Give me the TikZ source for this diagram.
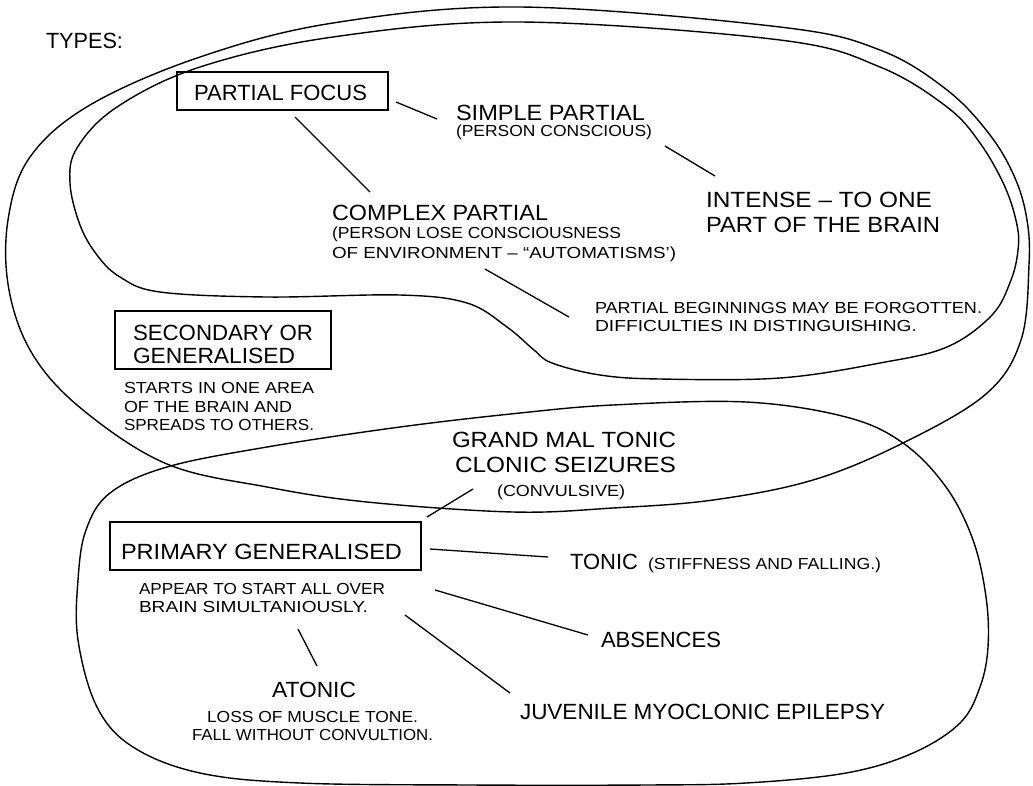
\documentclass[tikz,border=0pt]{standalone}
\usepackage{fontspec}
\setmainfont{Liberation Sans}
\usepackage{graphicx}
\usetikzlibrary{calc}
\newcommand{\BT}[2]{{\fontsize{22}{22}\selectfont\resizebox{#1pt}{\height}{#2}}}
\newcommand{\ST}[2]{{\fontsize{16}{16}\selectfont\resizebox{#1pt}{\height}{#2}}}
\begin{document}
\begin{tikzpicture}[x=1pt,y=-1pt,
  lbl/.style={anchor=base west, inner sep=0pt, outer sep=0pt},
  box/.style={draw, line width=1.4pt, inner sep=0pt, outer sep=0pt},
  conn/.style={line width=1.3pt},
  loopline/.style={line width=1.4pt}]
\useasboundingbox (0,0) rectangle (1033,785);

% outer loop (partial + secondary)
\draw[loopline] plot[smooth cycle, tension=0.6] coordinates {
 (200,57) (333,23) (520,7) (780,27) (880,50) (947,90) (990,135) (1015,178)
 (1027,220) (1029,265) (1021,340) (986,394) (903,443) (813,480)
 (713,500) (613,508) (513,512) (367,502) (267,487) (167,464) (83,410)
 (33,355) (9,290) (8,220) (30,157) (90,105)};

% inner loop (partial focus)
\draw[loopline] plot[smooth cycle, tension=0.6] coordinates {
 (333,37) (520,22) (780,40) (880,67) (947,107) (980,143) (1005,187)
 (1017,225) (1018,250) (1011,280) (992,315) (947,347) (880,363) (780,378)
 (660,379) (600,375) (552,363) (534,350) (507,327) (467,303) (400,295)
 (267,297) (160,292) (120,277) (97,255) (80,225) (70,183) (77,148)
 (117,107) (200,67)};

% bottom loop (primary generalised)
\draw[loopline] plot[smooth cycle, tension=0.6] coordinates {
 (110,493) (167,467) (267,447) (400,427) (520,413) (613,405) (746,402)
 (846,417) (903,443) (946,487) (973,540) (986,597) (988,647) (980,687)
 (960,723) (913,753) (846,773) (746,783) (646,785) (470,785) (300,783)
 (200,773) (133,747) (97,707) (78,640) (78,580) (86,530)};

% title
\node[lbl] (types) at (46,48) {\BT{77}{TYPES:}};

% partial focus
\node[box, minimum width=211pt, minimum height=38pt] (pf) at (282.5,91) {};
\node[lbl] (pft) at (194,100) {\BT{173}{PARTIAL FOCUS}};

\node[lbl] (sp) at (456,120.5) {\BT{189}{SIMPLE PARTIAL}};
\node[lbl] (sp2) at (456,136) {\ST{196}{(PERSON CONSCIOUS)}};

\node[lbl] (int) at (706,207) {\BT{226}{INTENSE – TO ONE}};
\node[lbl] (int2) at (706,232) {\BT{234}{PART OF THE BRAIN}};

\node[lbl] (cp) at (332,220) {\BT{216}{COMPLEX PARTIAL}};
\node[lbl] (cp2) at (332,238) {\ST{289}{(PERSON LOSE CONSCIOUSNESS}};
\node[lbl] (cp3) at (332,258) {\ST{344}{OF ENVIRONMENT – “AUTOMATISMS’)}};

\node[lbl] (pb) at (595,313) {\ST{387}{PARTIAL BEGINNINGS MAY BE FORGOTTEN.}};
\node[lbl] (pb2) at (595,331) {\ST{322}{DIFFICULTIES IN DISTINGUISHING.}};

% secondary
\node[box, minimum width=216pt, minimum height=58pt] (sec) at (223,340) {};
\node[lbl] (sect) at (133,340) {\BT{180}{SECONDARY OR}};
\node[lbl] (sect2) at (133,363) {\BT{162}{GENERALISED}};
\node[lbl] (st1) at (124,393) {\ST{190}{STARTS IN ONE AREA}};
\node[lbl] (st2) at (124,412) {\ST{168}{OF THE BRAIN AND}};
\node[lbl] (st3) at (124,430) {\ST{190}{SPREADS TO OTHERS.}};

% primary generalised
\node[box, minimum width=311pt, minimum height=48pt] (pg) at (265.5,546) {};
\node[lbl] (pgt) at (121,559) {\BT{281}{PRIMARY GENERALISED}};
\node[lbl] (ap1) at (139,594) {\ST{246}{APPEAR TO START ALL OVER}};
\node[lbl] (ap2) at (139,612) {\ST{229}{BRAIN SIMULTANIOUSLY.}};

\node[lbl] (gm) at (452,447) {\BT{224}{GRAND MAL TONIC}};
\node[lbl] (gm2) at (455,472) {\BT{221}{CLONIC SEIZURES}};
\node[lbl] (gm3) at (497,496) {\ST{128}{(CONVULSIVE)}};

\node[lbl] (ton) at (570,569) {\BT{68}{TONIC}};
\node[lbl] (ton2) at (648,569) {\ST{233}{(STIFFNESS AND FALLING.)}};

\node[lbl] (abs) at (601,647) {\BT{120}{ABSENCES}};
\node[lbl] (juv) at (520,719) {\BT{365}{JUVENILE MYOCLONIC EPILEPSY}};

\node[lbl] (at) at (272,697) {\BT{84}{ATONIC}};
\node[lbl] (at2) at (207,722) {\ST{211}{LOSS OF MUSCLE TONE.}};
\node[lbl] (at3) at (192,740) {\ST{241}{FALL WITHOUT CONVULTION.}};

% connectors
\draw[conn] ($(pf.east)+(8,11)$) -- ($(sp.base west)+(-19,-1.5)$);
\draw[conn] ($(sp2.base west)+(209,10)$) -- ($(int.base west)+(9,-31)$);
\draw[conn] ($(pf.south)+(12.5,7)$) -- ($(cp.base west)+(38,-28)$);
\draw[conn] ($(cp3.base west)+(153,11)$) -- ($(pb.base west)+(-26,4)$);
\draw[conn] ($(pg.east)+(6,-29)$) -- ($(gm3.base west)+(-24,-7)$);
\draw[conn] ($(pg.east)+(9,3)$) -- ($(ton.base west)+(-22,-12)$);
\draw[conn] ($(pg.east)+(14,44)$) -- ($(abs.base west)+(-13,-12)$);
\draw[conn] ($(pg.east)+(-16,69)$) -- ($(juv.base west)+(-10,-26)$);
\draw[conn] ($(pg.south)+(32.5,59)$) -- ($(at.base west)+(45,-31)$);
\end{tikzpicture}
\end{document}
